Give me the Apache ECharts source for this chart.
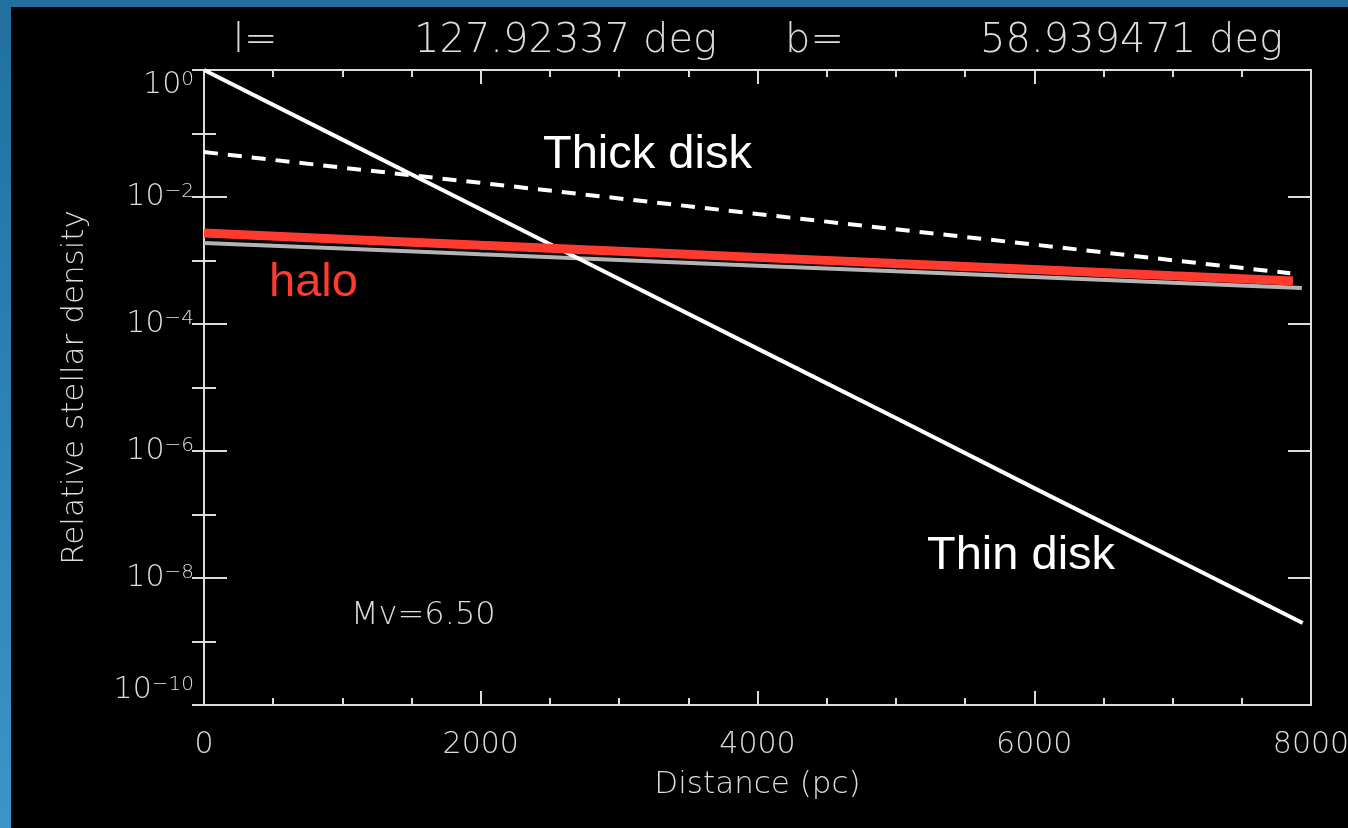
<!DOCTYPE html>
<html>
<head>
<meta charset="utf-8">
<script src="https://cdn.jsdelivr.net/npm/echarts@6/dist/echarts.min.js"></script>
<style>
  html, body { margin: 0; padding: 0; width: 1348px; height: 828px; overflow: hidden;
    background: linear-gradient(180deg, #21709f 0%, #2c80b2 45%, #3b95c7 100%); }
  #panel { position: absolute; left: 11px; top: 7px; right: 0; bottom: 0; background: #000; }
  #chart { position: absolute; left: 0; top: 0; width: 1348px; height: 828px; }
</style>
</head>
<body>
<div id="panel"></div>
<div id="chart"></div>
<script>
// Relative stellar density along the line of sight (pc)
const thinDiskDist    = [0, 1000, 2000, 3000, 4000, 5000, 6000, 7000, 7940];
const thinDiskDensity = [1.0, 0.080, 6.4e-3, 5.1e-4, 4.1e-5, 3.3e-6, 2.6e-7, 2.1e-8, 1.95e-9];

const thickDiskDist    = [0, 1000, 2000, 3000, 4000, 5000, 6000, 7000, 7850];
const thickDiskDensity = [0.051, 0.029, 0.0167, 9.5e-3, 5.4e-3, 3.1e-3, 1.78e-3, 1.01e-3, 6.3e-4];

const haloDist    = [0, 1000, 2000, 3000, 4000, 5000, 6000, 7000, 7870];
const haloDensity = [2.71e-3, 2.17e-3, 1.74e-3, 1.40e-3, 1.12e-3, 8.96e-4, 7.2e-4, 5.75e-4, 4.75e-4];

const haloAltDist    = [0, 1000, 2000, 3000, 4000, 5000, 6000, 7000, 7934];
const haloAltDensity = [1.89e-3, 1.54e-3, 1.25e-3, 1.02e-3, 8.3e-4, 6.75e-4, 5.5e-4, 4.47e-4, 3.69e-4];

const yTickExponents = [0, -2, -4, -6, -8, -10];
const xTickValues = [0, 2000, 4000, 6000, 8000];

const pair = (xs, ys) => xs.map((x, i) => [x, ys[i]]);

const AX = '#dcdcdc';
const FONT = 'DejaVu Sans';
const lineStyle = { color: AX, width: 2 };

function yLabel(v) {
  const e = Math.round(Math.log10(v));
  if (!yTickExponents.includes(e)) return '';
  const s = e < 0 ? '\u2212' + (-e) : String(e);
  return '{b|10}{s|' + s + '}';
}

const baseX = {
  type: 'value', min: 0, max: 8000, interval: 2000,
  axisLine: { show: true, onZero: false, lineStyle },
  axisTick: { show: true, inside: true, length: 14, lineStyle },
  minorTick: { show: true, splitNumber: 4, length: 7, lineStyle },
  splitLine: { show: false }, minorSplitLine: { show: false }
};

const baseY = {
  type: 'log', logBase: 10, min: 1e-10, max: 1,
  axisLine: { show: true, onZero: false, lineStyle },
  splitLine: { show: false }
};

const chart = echarts.init(document.getElementById('chart'), null, { renderer: 'canvas' });

chart.setOption({
  backgroundColor: 'transparent',
  animation: false,
  grid: { left: 204, top: 70, right: 37, bottom: 123, containLabel: false, outerBoundsMode: 'none' },
  xAxis: [
    Object.assign({}, baseX, {
      position: 'bottom',
      name: 'Distance (pc)', nameLocation: 'middle', nameGap: 64,
      nameTextStyle: { color: AX, fontFamily: FONT, fontWeight: 200, fontSize: 31 },
      axisLabel: {
        color: AX, fontFamily: FONT, fontWeight: 200, fontSize: 30, margin: 25,
        formatter: v => xTickValues.includes(v) ? String(v) : ''
      }
    }),
    Object.assign({}, baseX, { position: 'top', axisLabel: { show: false } })
  ],
  yAxis: [
    Object.assign({}, baseY, {
      position: 'left', interval: 2,
      axisTick: { show: true, inside: true, length: 23, lineStyle },
      name: 'Relative stellar density', nameLocation: 'middle', nameGap: 114,
      nameTextStyle: { color: AX, fontFamily: FONT, fontWeight: 200, fontSize: 31 },
      axisLabel: {
        margin: 10, formatter: yLabel,
        verticalAlignMaxLabel: 'top', verticalAlignMinLabel: 'bottom',
        rich: {
          b: { color: AX, fontFamily: FONT, fontWeight: 200, fontSize: 30, lineHeight: 30, verticalAlign: 'bottom' },
          s: { color: AX, fontFamily: FONT, fontWeight: 200, fontSize: 20, lineHeight: 13, verticalAlign: 'top' }
        }
      }
    }),
    Object.assign({}, baseY, {
      position: 'right', interval: 2,
      axisTick: { show: true, inside: true, length: 23, lineStyle },
      axisLabel: { show: false }
    }),
    Object.assign({}, baseY, {
      position: 'left', interval: 1, axisLine: { show: false },
      axisTick: { show: true, inside: true, length: 12, lineStyle },
      axisLabel: { show: false }
    }),
    Object.assign({}, baseY, {
      position: 'right', interval: 1, axisLine: { show: false },
      axisTick: { show: true, inside: true, length: 12, lineStyle },
      axisLabel: { show: false }
    })
  ],
  series: [
    {
      name: 'Thin disk', type: 'line', showSymbol: false, symbol: 'none',
      data: pair(thinDiskDist, thinDiskDensity),
      lineStyle: { color: '#ffffff', width: 4 }, z: 3
    },
    {
      name: 'Thick disk', type: 'line', showSymbol: false, symbol: 'none',
      data: pair(thickDiskDist, thickDiskDensity),
      lineStyle: { color: '#ffffff', width: 4, type: [14, 10] }, z: 3
    },
    {
      name: 'halo (alt)', type: 'line', showSymbol: false, symbol: 'none',
      data: pair(haloAltDist, haloAltDensity),
      lineStyle: { color: '#b4b4b4', width: 4 }, z: 2
    },
    {
      name: 'halo', type: 'line', showSymbol: false, symbol: 'none',
      data: pair(haloDist, haloDensity),
      lineStyle: { color: '#ff3b30', width: 9, cap: 'butt' }, z: 4
    }
  ],
  graphic: [
    { type: 'text', x: 233, y: 42, style: { text: 'l=', fill: AX, fontFamily: FONT, fontWeight: 200, fontSize: 40, verticalAlign: 'middle' } },
    { type: 'text', x: 414, y: 42, style: { text: '127.92337 deg', fill: AX, fontFamily: FONT, fontWeight: 200, fontSize: 40, verticalAlign: 'middle' } },
    { type: 'text', x: 785, y: 42, style: { text: 'b=', fill: AX, fontFamily: FONT, fontWeight: 200, fontSize: 40, verticalAlign: 'middle' } },
    { type: 'text', x: 980, y: 42, style: { text: '58.939471 deg', fill: AX, fontFamily: FONT, fontWeight: 200, fontSize: 40, verticalAlign: 'middle' } },
    { type: 'text', x: 351, y: 616, style: { text: 'Mv=6.50', fill: AX, fontFamily: FONT, fontWeight: 200, fontSize: 32, verticalAlign: 'middle' } },
    { type: 'text', x: 543, y: 179, style: { text: 'Thick disk', fill: '#ffffff', fontFamily: 'Liberation Sans', fontSize: 47, verticalAlign: 'bottom' } },
    { type: 'text', x: 269, y: 307, style: { text: 'halo', fill: '#ff3b30', fontFamily: 'Liberation Sans', fontSize: 47, verticalAlign: 'bottom' } },
    { type: 'text', x: 927, y: 580, style: { text: 'Thin disk', fill: '#ffffff', fontFamily: 'Liberation Sans', fontSize: 47, verticalAlign: 'bottom' } }
  ]
});
</script>
</body>
</html>
